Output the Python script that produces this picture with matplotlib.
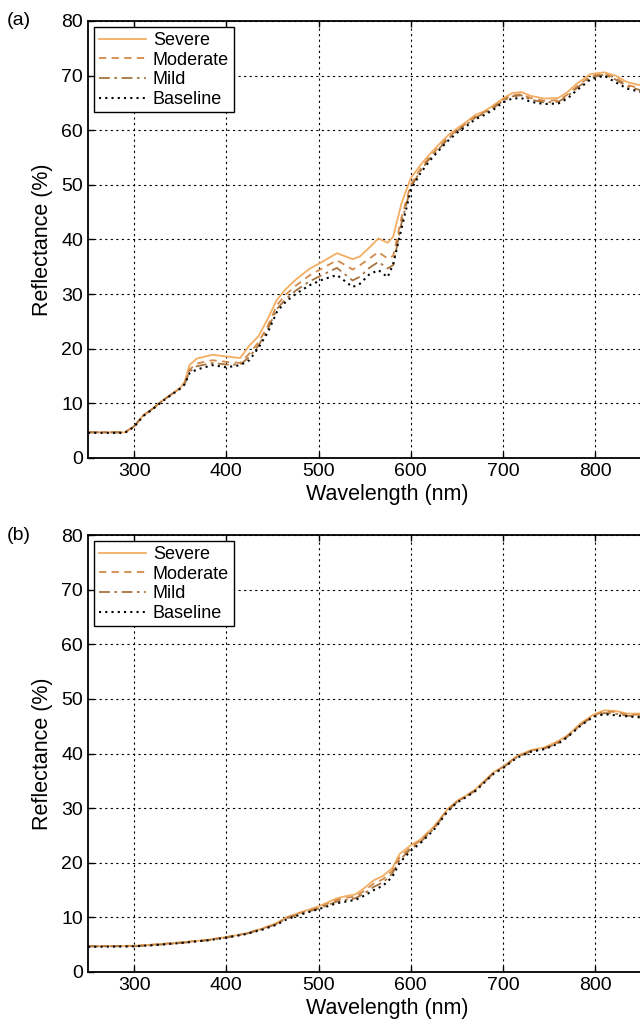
import matplotlib
matplotlib.use("Agg")
import matplotlib.pyplot as plt

plt.rcParams['font.family'] = ['Liberation Sans', 'DejaVu Sans']

labels = ["Severe", "Moderate", "Mild", "Baseline"]

wl_a = [250, 290, 300, 310, 320, 330, 340, 350, 355, 360,
        368, 385, 400, 415, 425, 435, 445, 455, 465, 475,
        490, 505, 520, 537, 545, 555, 565, 575, 581, 590,
        600, 610, 620, 630, 640, 650, 660, 670, 680, 690,
        700, 710, 720, 730, 745, 760, 770, 780, 795, 810,
        822, 835, 850, 860]
severe_a = [4.7, 4.7, 5.8, 7.8, 9.0, 10.4, 11.6, 12.8, 14.0, 17.0,
            18.2, 18.9, 18.6, 18.3, 20.6, 22.3, 25.5, 29.0, 31.0, 32.6,
            34.6, 36.0, 37.5, 36.4, 36.9, 38.5, 40.2, 39.4, 40.5, 46.6,
            51.2, 53.5, 55.5, 57.3, 59.0, 60.3, 61.5, 62.8, 63.5, 64.6,
            65.8, 66.8, 67.0, 66.3, 65.8, 65.9, 67.0, 68.5, 70.3, 70.6,
            70.0, 68.8, 68.2, 67.9]
moderate_a = [4.7, 4.7, 5.8, 7.8, 9.0, 10.4, 11.6, 12.8, 13.8, 16.2,
              17.3, 17.9, 17.6, 17.4, 19.1, 21.2, 24.2, 28.0, 30.0, 31.5,
              33.4, 34.8, 36.2, 34.5, 35.3, 36.5, 37.7, 36.5, 37.0, 44.0,
              50.0, 52.8, 55.0, 56.8, 58.6, 60.0, 61.2, 62.5, 63.3, 64.3,
              65.6, 66.4, 66.6, 65.9, 65.4, 65.5, 66.5, 68.0, 69.9, 70.3,
              69.6, 68.3, 67.6, 67.3]
mild_a = [4.7, 4.7, 5.8, 7.8, 9.0, 10.4, 11.6, 12.8, 13.6, 15.8,
          16.8, 17.4, 17.1, 17.1, 18.5, 20.6, 23.6, 27.3, 29.2, 30.6,
          32.3, 33.6, 34.8, 32.5, 33.2, 34.8, 35.9, 34.7, 35.3, 43.0,
          49.5, 52.4, 54.7, 56.5, 58.3, 59.8, 61.0, 62.3, 63.1, 64.1,
          65.4, 66.2, 66.4, 65.6, 65.1, 65.2, 66.2, 67.7, 69.6, 70.2,
          69.3, 68.0, 67.3, 67.0]
baseline_a = [4.6, 4.6, 5.7, 7.7, 8.9, 10.3, 11.5, 12.7, 13.5, 15.5,
              16.2, 17.0, 16.6, 17.0, 17.9, 20.2, 23.0, 26.8, 28.7, 30.0,
              31.6, 32.7, 33.5, 31.3, 31.9, 33.6, 34.4, 33.1, 35.5, 42.0,
              49.0, 52.0, 54.3, 56.2, 58.0, 59.5, 60.7, 62.0, 62.8, 63.8,
              65.1, 65.8, 65.9, 65.2, 64.8, 64.9, 65.8, 67.3, 69.3, 70.0,
              68.8, 67.6, 67.0, 66.7]

wl_b = [250, 300, 320, 350, 380, 400, 420, 440, 455, 465,
        480, 500, 520, 530, 540, 550, 560, 570, 580, 588,
        600, 610, 625, 640, 650, 660, 670, 680, 690, 700,
        715, 730, 745, 760, 770, 785, 798, 810, 822, 835,
        850, 860]
severe_b = [4.7, 4.8, 5.0, 5.4, 5.9, 6.4, 7.0, 8.0, 9.0, 10.0,
            10.9, 12.0, 13.5, 13.9, 14.2, 15.4, 16.8, 17.6, 19.0, 21.6,
            23.2, 24.2, 26.6, 29.8, 31.3, 32.3, 33.4, 35.0, 36.6, 37.6,
            39.5, 40.6, 41.1, 42.3, 43.3, 45.6, 47.1, 47.9, 47.8, 47.3,
            47.3, 47.3]
moderate_b = [4.7, 4.8, 5.0, 5.4, 5.9, 6.4, 7.0, 8.0, 8.9, 9.9,
              10.8, 11.8, 13.2, 13.6, 13.8, 14.9, 16.2, 17.0, 18.5, 21.0,
              22.8, 24.0, 26.4, 29.7, 31.2, 32.2, 33.3, 34.9, 36.5, 37.5,
              39.4, 40.5, 41.0, 42.1, 43.2, 45.4, 46.9, 47.7, 47.6, 47.1,
              47.1, 47.1]
mild_b = [4.7, 4.7, 4.9, 5.3, 5.8, 6.3, 6.9, 7.9, 8.8, 9.8,
          10.6, 11.6, 12.9, 13.2, 13.5, 14.4, 15.6, 16.4, 18.0, 20.5,
          22.5, 23.7, 26.2, 29.5, 31.1, 32.1, 33.2, 34.8, 36.4, 37.4,
          39.3, 40.4, 40.9, 41.9, 43.1, 45.3, 46.8, 47.4, 47.3, 46.9,
          46.8, 46.8]
baseline_b = [4.6, 4.7, 4.9, 5.3, 5.8, 6.3, 6.9, 7.8, 8.7, 9.6,
              10.5, 11.5, 12.6, 12.9, 13.2, 14.0, 15.0, 15.8, 17.4, 20.0,
              22.2, 23.5, 26.0, 29.4, 31.0, 32.0, 33.1, 34.7, 36.3, 37.3,
              39.2, 40.3, 40.8, 41.8, 43.0, 45.2, 46.7, 47.2, 47.0, 46.8,
              46.6, 46.5]

x_ticks = [300, 400, 500, 600, 700, 800]
y_ticks = [0, 10, 20, 30, 40, 50, 60, 70, 80]

colors = ['#F3AE63', '#D38A48', '#A8743F', '#000000']
styles = ['-', (0, (4, 3)), (0, (6, 2.5, 1.5, 2.5)), (0, (1, 2))]
widths = [1.3, 1.3, 1.3, 1.5]

fig = plt.figure(figsize=(6.4, 10.29), dpi=100)
ax_w = 650 * 0.922 / 640
axes = [fig.add_axes([88 / 640, 1 - 458 / 1029, ax_w, 437 / 1029]),
        fig.add_axes([88 / 640, 1 - 972 / 1029, ax_w, 437 / 1029])]

panels = [(wl_a, [severe_a, moderate_a, mild_a, baseline_a], '(a)'),
          (wl_b, [severe_b, moderate_b, mild_b, baseline_b], '(b)')]

for ax, (wl, series, tag) in zip(axes, panels):
    for y, lab, c, ls, lw in zip(series, labels, colors, styles, widths):
        ax.plot(wl, y, color=c, linestyle=ls, linewidth=lw, label=lab)
    ax.set_xlim(250, 900)
    ax.set_ylim(0, 80)
    ax.set_xticks(x_ticks)
    ax.set_yticks(y_ticks)
    ax.grid(True, color='black', linestyle=(0, (2, 3)), linewidth=0.8)
    ax.tick_params(direction='in', top=True, right=True, length=4,
                   labelsize=14, width=1)
    for s in ax.spines.values():
        s.set_linewidth(1.3)
    ax.set_xlabel('Wavelength (nm)', fontsize=15.5, labelpad=3)
    ax.set_ylabel('Reflectance (%)', fontsize=15.5, labelpad=6)
    leg = ax.legend(loc='upper left', fontsize=13, frameon=True, fancybox=False,
                    edgecolor='black', framealpha=1, borderaxespad=0.35,
                    handlelength=2.6, handletextpad=0.4, borderpad=0.25,
                    labelspacing=0.15)
    leg.get_frame().set_linewidth(1.0)
    ax.text(-0.135, 1.0, tag, transform=ax.transAxes, fontsize=14,
            ha='left', va='center')

fig.savefig('out.png', dpi=100)
